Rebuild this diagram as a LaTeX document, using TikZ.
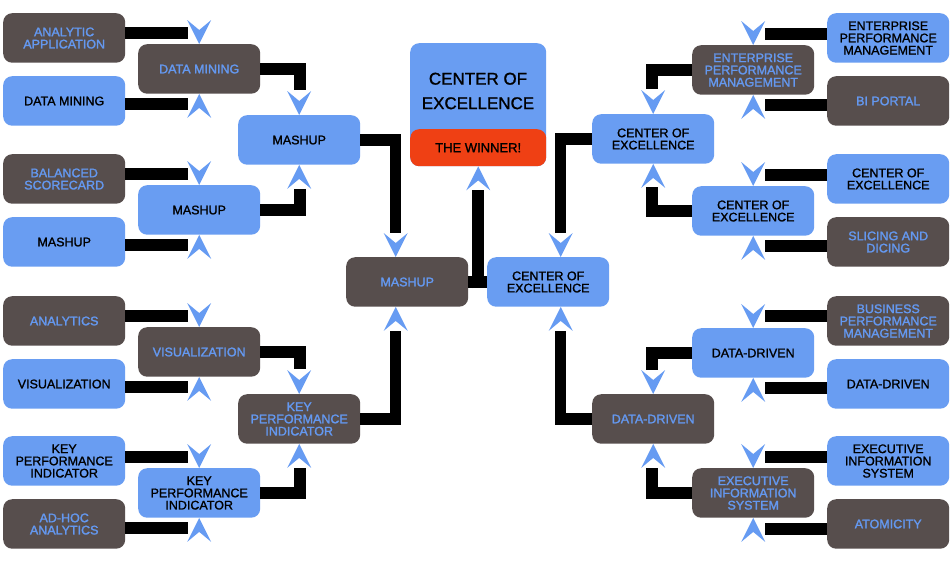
\documentclass[tikz,border=0pt]{standalone}
\usepackage{fontspec}
\setmainfont{Liberation Sans}
\newfontfamily\bxfont[FakeBold=1.2]{Liberation Sans}
\newfontfamily\dkfont[FakeBold=1.8]{Liberation Sans}
\usetikzlibrary{calc}
\definecolor{bx}{RGB}{105,157,242}
\definecolor{dk}{RGB}{87,78,77}
\definecolor{tb}{RGB}{100,152,240}
\definecolor{rd}{RGB}{239,64,20}
\definecolor{ab}{RGB}{102,155,242}
\begin{document}
\begin{tikzpicture}[x=1pt,y=-1pt,
 box/.style={rectangle, rounded corners=9pt, minimum width=122pt, minimum height=49.5pt, inner sep=0pt, align=center, anchor=north west, text depth=-5pt},
 bbox/.style={box, fill=bx, text=black, font=\bxfont\fontsize{12.5}{12.2}\selectfont},
 dbox/.style={box, fill=dk, text=tb, font=\dkfont\fontsize{12.5}{12.2}\selectfont},
 bar/.style={line width=11.5pt, black},
 adown/.pic={\fill[ab] (0,0) -- (-12,-24) -- (0,-14) -- (12,-24) -- cycle;},
 aup/.pic={\fill[ab] (0,0) -- (-12,24) -- (0,14) -- (12,24) -- cycle;}
]
\useasboundingbox[fill=white] (0,0) rectangle (952,560);

% left column 1
\node[dbox] (L1a) at (3,13) {ANALYTIC\\APPLICATION};
\node[bbox] (L1b) at (3,76) {DATA MINING};
\node[dbox] (L1c) at (3,154) {BALANCED\\SCORECARD};
\node[bbox] (L1d) at (3,217) {MASHUP};
\node[dbox] (L1e) at (3,296) {ANALYTICS};
\node[bbox] (L1f) at (3,359) {VISUALIZATION};
\node[bbox] (L1g) at (3,436) {KEY\\PERFORMANCE\\INDICATOR};
\node[dbox] (L1h) at (3,499) {AD-HOC\\ANALYTICS};
% left column 2
\node[dbox] (L2a) at (138,44) {DATA MINING};
\node[bbox] (L2b) at (138,185) {MASHUP};
\node[dbox] (L2c) at (138,327) {VISUALIZATION};
\node[bbox] (L2d) at (138,468) {KEY\\PERFORMANCE\\INDICATOR};
% left column 3
\node[bbox] (L3a) at (238,115) {MASHUP};
\node[dbox] (L3b) at (238,394) {KEY\\PERFORMANCE\\INDICATOR};
% center
\node[dbox] (CL) at (346,257) {MASHUP};
\node[bbox] (CR) at (487,257) {CENTER OF\\EXCELLENCE};
% right column 3
\node[bbox] (R3a) at (592,114) {CENTER OF\\EXCELLENCE};
\node[dbox] (R3b) at (592,394) {DATA-DRIVEN};
% right column 2
\node[dbox] (R2a) at (692,45) {ENTERPRISE\\PERFORMANCE\\MANAGEMENT};
\node[bbox] (R2b) at (692,186) {CENTER OF\\EXCELLENCE};
\node[bbox] (R2c) at (692,328) {DATA-DRIVEN};
\node[dbox] (R2d) at (692,468) {EXECUTIVE\\INFORMATION\\SYSTEM};
% right column 1
\node[bbox] (R1a) at (827,13) {ENTERPRISE\\PERFORMANCE\\MANAGEMENT};
\node[dbox] (R1b) at (827,76) {BI PORTAL};
\node[bbox] (R1c) at (827,154) {CENTER OF\\EXCELLENCE};
\node[dbox] (R1d) at (827,217) {SLICING AND\\DICING};
\node[dbox] (R1e) at (827,296) {BUSINESS\\PERFORMANCE\\MANAGEMENT};
\node[bbox] (R1f) at (827,359) {DATA-DRIVEN};
\node[bbox] (R1g) at (827,436) {EXECUTIVE\\INFORMATION\\SYSTEM};
\node[dbox] (R1h) at (827,499) {ATOMICITY};

% winner
\node[rectangle, rounded corners=9pt, fill=bx, minimum width=136pt, minimum height=123pt, inner sep=0pt, anchor=north west] (W) at (410,43) {};
\node[align=center, font=\bxfont\fontsize{17}{24.5}\selectfont, inner sep=0pt] (Wt) at (478,91) {CENTER OF\\EXCELLENCE};
\node[rectangle, rounded corners=9pt, fill=rd, minimum width=136pt, minimum height=37pt, inner sep=0pt, anchor=north west, font=\bxfont\fontsize{13}{13}\selectfont] (Wr) at (410,129) {THE WINNER!};

% left col1 -> col2
\draw[bar] (L1a.east |- 188,33) -- (188,33);  \pic at (L2a.north) {adown};
\draw[bar] (L1b.east |- 188,104) -- (188,104); \pic at (L2a.south) {aup};
\draw[bar] (L1c.east |- 188,174) -- (188,174); \pic at (L2b.north) {adown};
\draw[bar] (L1d.east |- 188,245) -- (188,245); \pic at (L2b.south) {aup};
\draw[bar] (L1e.east |- 188,316) -- (188,316); \pic at (L2c.north) {adown};
\draw[bar] (L1f.east |- 188,387) -- (188,387); \pic at (L2c.south) {aup};
\draw[bar] (L1g.east |- 188,457) -- (188,457); \pic at (L2d.north) {adown};
\draw[bar] (L1h.east |- 188,528) -- (188,528); \pic at (L2d.south) {aup};
% left col2 -> col3
\draw[bar] (L2a.east) -| (300,90);  \pic at (L3a.north) {adown};
\draw[bar] (L2b.east) -| (300,189); \pic at (L3a.south) {aup};
\draw[bar] (L2c.east) -| (300,369); \pic at (L3b.north) {adown};
\draw[bar] (L2d.east) -| (300,468); \pic at (L3b.south) {aup};
% col3 -> center
\draw[bar] (L3a.east) -| ([xshift=-11.5pt,yshift=24pt]CL.north); \pic at ([xshift=-11.5pt]CL.north) {adown};
\draw[bar] (L3b.east) -| ([xshift=-11.5pt,yshift=-24pt]CL.south); \pic at ([xshift=-11.5pt]CL.south) {aup};
\draw[bar] (R3a.west) -| ([xshift=12.5pt,yshift=24pt]CR.north); \pic at ([xshift=12.5pt]CR.north) {adown};
\draw[bar] (R3b.west) -| ([xshift=12.5pt,yshift=-24pt]CR.south); \pic at ([xshift=12.5pt]CR.south) {aup};
% center -> winner
\draw[bar] (CL.east |- 0,282) -- (CR.west |- 0,282);
\draw[bar] (W.south |- 0,288) -- ([yshift=-24pt]W.south); \pic at (W.south) {aup};
% right col2 -> col3
\draw[bar] (R2a.west) -| (652,89);  \pic at (R3a.north) {adown};
\draw[bar] (R2b.west) -| (652,187); \pic at (R3a.south) {aup};
\draw[bar] (R2c.west) -| (652,370); \pic at (R3b.north) {adown};
\draw[bar] (R2d.west) -| (652,468); \pic at (R3b.south) {aup};
% right col1 -> col2
\draw[bar] (R1a.west |- 765,34) -- (765,34);   \pic at (R2a.north) {adown};
\draw[bar] (R1b.west |- 765,105) -- (765,105); \pic at (R2a.south) {aup};
\draw[bar] (R1c.west |- 765,175) -- (765,175); \pic at (R2b.north) {adown};
\draw[bar] (R1d.west |- 765,246) -- (765,246); \pic at (R2b.south) {aup};
\draw[bar] (R1e.west |- 765,316) -- (765,316); \pic at (R2c.north) {adown};
\draw[bar] (R1f.west |- 765,388) -- (765,388); \pic at (R2c.south) {aup};
\draw[bar] (R1g.west |- 765,457) -- (765,457); \pic at (R2d.north) {adown};
\draw[bar] (R1h.west |- 765,529) -- (765,529); \pic at (R2d.south) {aup};
\end{tikzpicture}
\end{document}
